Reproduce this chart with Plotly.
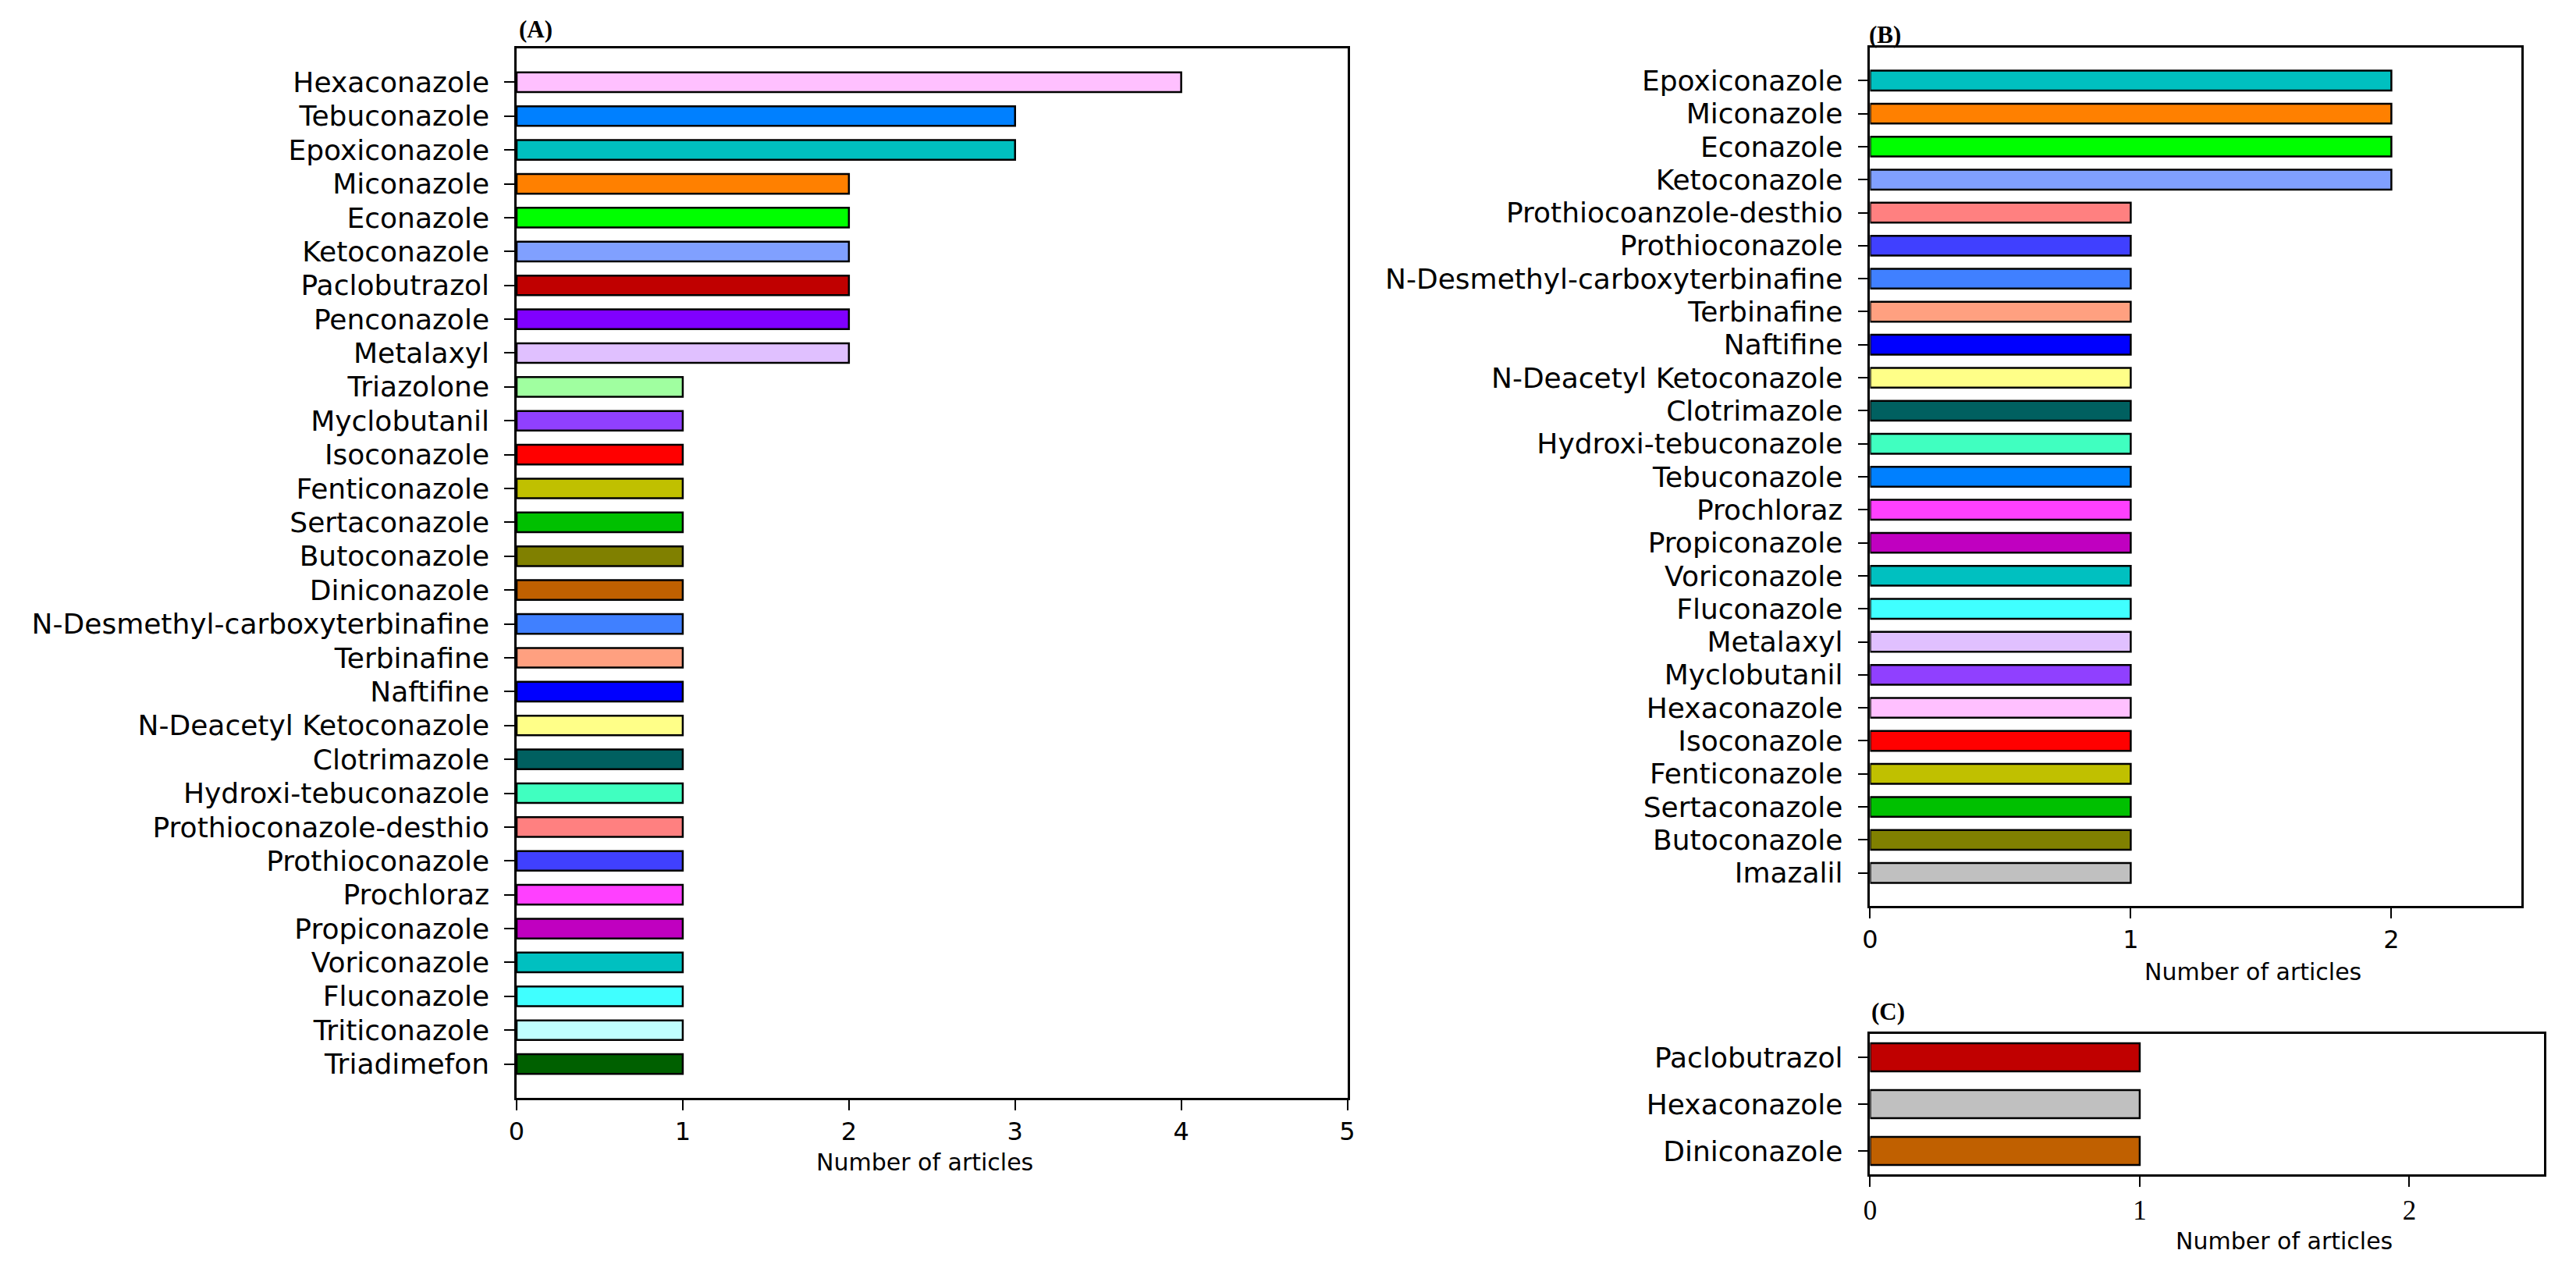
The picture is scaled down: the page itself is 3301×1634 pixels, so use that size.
import plotly.graph_objects as go

# ---- data ----
a_names = ["Hexaconazole", "Tebuconazole", "Epoxiconazole", "Miconazole", "Econazole",
           "Ketoconazole", "Paclobutrazol", "Penconazole", "Metalaxyl", "Triazolone",
           "Myclobutanil", "Isoconazole", "Fenticonazole", "Sertaconazole", "Butoconazole",
           "Diniconazole", "N-Desmethyl-carboxyterbinafine", "Terbinafine", "Naftifine",
           "N-Deacetyl Ketoconazole", "Clotrimazole", "Hydroxi-tebuconazole",
           "Prothioconazole-desthio", "Prothioconazole", "Prochloraz", "Propiconazole",
           "Voriconazole", "Fluconazole", "Triticonazole", "Triadimefon"]
a_counts = [4, 3, 3, 2, 2, 2, 2, 2, 2, 1, 1, 1, 1, 1, 1, 1, 1, 1, 1, 1, 1, 1, 1, 1, 1, 1, 1, 1, 1, 1]
a_colors = ["#FFC0FF", "#0080FF", "#00C0C0", "#FF8000", "#00FF00", "#80A0FF", "#C00000",
            "#8000FF", "#E0C0FF", "#A0FFA0", "#9040FF", "#FF0000", "#C0C000", "#00C000",
            "#808000", "#C06000", "#4080FF", "#FFA080", "#0000FF", "#FFFF88", "#006060",
            "#40FFC0", "#FF8080", "#4040FF", "#FF40FF", "#C000C0", "#00C0C0", "#40FFFF",
            "#C0FFFF", "#006000"]

b_names = ["Epoxiconazole", "Miconazole", "Econazole", "Ketoconazole",
           "Prothiocoanzole-desthio", "Prothioconazole", "N-Desmethyl-carboxyterbinafine",
           "Terbinafine", "Naftifine", "N-Deacetyl Ketoconazole", "Clotrimazole",
           "Hydroxi-tebuconazole", "Tebuconazole", "Prochloraz", "Propiconazole",
           "Voriconazole", "Fluconazole", "Metalaxyl", "Myclobutanil", "Hexaconazole",
           "Isoconazole", "Fenticonazole", "Sertaconazole", "Butoconazole", "Imazalil"]
b_counts = [2, 2, 2, 2, 1, 1, 1, 1, 1, 1, 1, 1, 1, 1, 1, 1, 1, 1, 1, 1, 1, 1, 1, 1, 1]
b_colors = ["#00C0C0", "#FF8000", "#00FF00", "#80A0FF", "#FF8080", "#4040FF", "#4080FF",
            "#FFA080", "#0000FF", "#FFFF88", "#006060", "#40FFC0", "#0080FF", "#FF40FF",
            "#C000C0", "#00C0C0", "#40FFFF", "#E0C0FF", "#9040FF", "#FFC0FF", "#FF0000",
            "#C0C000", "#00C000", "#808000", "#C0C0C0"]

c_names = ["Paclobutrazol", "Hexaconazole", "Diniconazole"]
c_counts = [1, 1, 1]
c_colors = ["#C00000", "#C0C0C0", "#C06000"]

W, H = 3301, 1634
SANS = "DejaVu Sans"
SERIF = "Liberation Serif"


def px_x(p):
    return p / W


def px_y(p):
    return 1 - p / H


fig = go.Figure()
panels = [
    ("x", "y", a_names, a_counts, a_colors, 0.58),
    ("x2", "y2", b_names, b_counts, b_colors, 0.6),
    ("x3", "y3", c_names, c_counts, c_colors, 0.6),
]
for xa, ya, names, counts, colors, bw in panels:
    fig.add_trace(go.Bar(
        x=counts, y=names, orientation="h", xaxis=xa, yaxis=ya,
        width=bw, marker=dict(color=colors, line=dict(color="black", width=2.5)),
        showlegend=False, hoverinfo="x+y",
    ))

common_x = dict(showgrid=False, zeroline=False, showline=True, mirror=True,
                linecolor="black", linewidth=2.5, ticks="outside", ticklen=13,
                tickwidth=2, tickcolor="black", dtick=1, tick0=0,
                ticklabelstandoff=0)
# every category label is shown (tickmode linear, dtick 1)
common_y = dict(type="category", showgrid=False, zeroline=False, showline=True,
                mirror=True, linecolor="black", linewidth=2.5, ticks="outside",
                ticklen=13, tickwidth=2, tickcolor="black", ticklabelstandoff=12,
                tickmode="linear", tick0=0, dtick=1,
                tickfont=dict(family=SANS, size=36, color="black"))

fig.update_layout(
    width=W, height=H, margin=dict(l=0, r=0, t=0, b=0),
    paper_bgcolor="white", plot_bgcolor="white",
    xaxis=dict(common_x, domain=[px_x(656), px_x(1727)], range=[0, 5], anchor="y",
               tickfont=dict(family=SANS, size=32, color="black")),
    yaxis=dict(common_y, domain=[px_y(1407), px_y(62)], anchor="x",
               categoryorder="array", categoryarray=a_names,
               range=[len(a_names), -1]),
    xaxis2=dict(common_x, domain=[px_x(2401), px_x(3241)], range=[0, 2.5], anchor="y2",
                tickfont=dict(family=SANS, size=32, color="black")),
    yaxis2=dict(common_y, domain=[px_y(1161), px_y(61)], anchor="x2",
                categoryorder="array", categoryarray=b_names,
                range=[len(b_names), -1]),
    xaxis3=dict(common_x, domain=[px_x(2401), px_x(3270)], range=[0, 2.5], anchor="y3",
                tickfont=dict(family=SERIF, size=35, color="black")),
    yaxis3=dict(common_y, domain=[px_y(1505), px_y(1325)], anchor="x3",
                categoryorder="array", categoryarray=c_names,
                range=[len(c_names) - 0.5, -0.5]),
)

# axis titles and panel letters
notes = [
    ("Number of articles", 1182, 1489, SANS, 30, "center", False),
    ("Number of articles", 2895, 1245, SANS, 30, "center", False),
    ("Number of articles", 2935, 1590, SANS, 30, "center", False),
    ("(A)", 657, 37, SERIF, 31, "left", True),
    ("(B)", 2398, 44, SERIF, 31, "left", True),
    ("(C)", 2401, 1296, SERIF, 31, "left", True),
]
for text, x, y, fam, size, anchor, bold in notes:
    fig.add_annotation(
        text=f"<b>{text}</b>" if bold else text,
        x=px_x(x), y=px_y(y), xref="paper", yref="paper",
        xanchor=anchor, yanchor="middle", showarrow=False,
        font=dict(family=fam, size=size, color="black"),
    )

fig.write_html("out.html", config={"displayModeBar": False},
               post_script="document.body.style.margin='0';")
